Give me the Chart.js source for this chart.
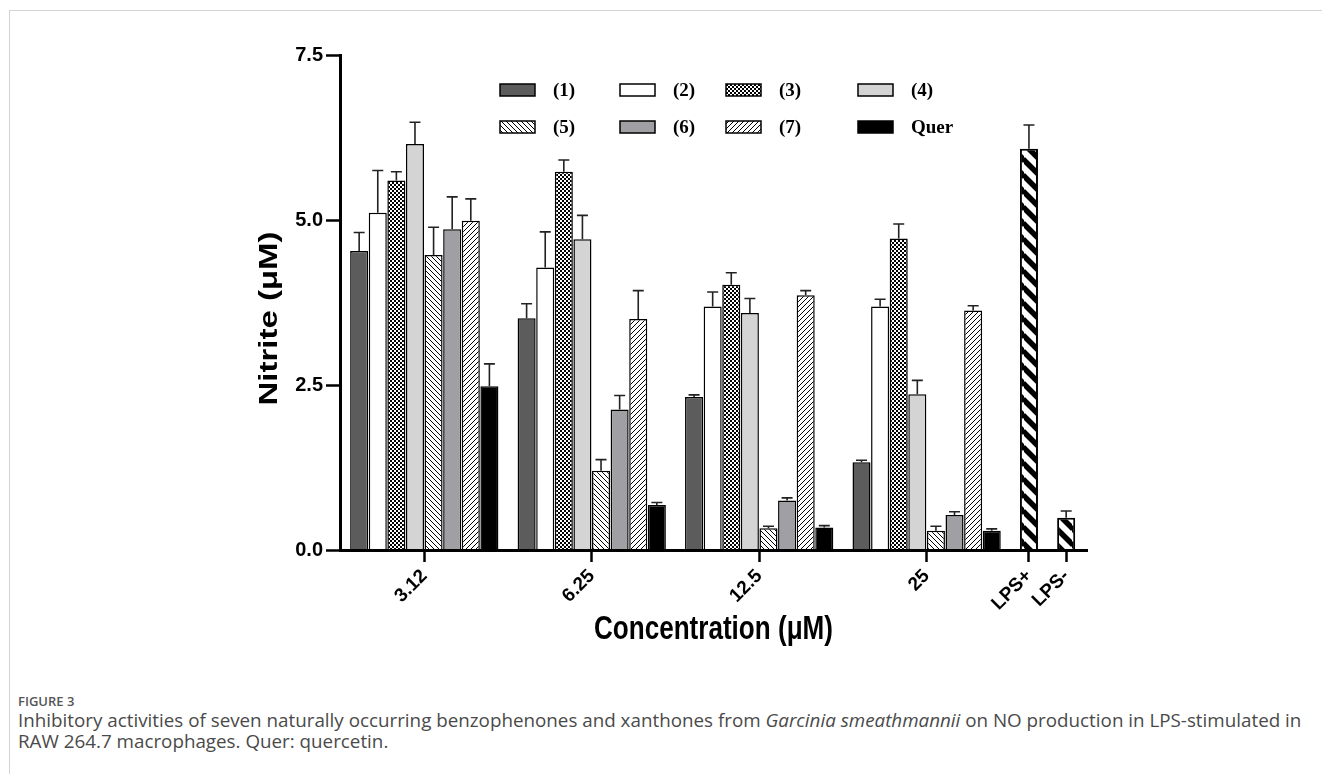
<!DOCTYPE html>
<html>
<head>
<meta charset="utf-8">
<title>Nitrite production</title>
<style>
body { margin: 0; background: #fff; width: 1322px; height: 774px; overflow: hidden; position: relative; }
#frame { position: absolute; left: 9px; top: 10px; right: 0; bottom: 0; border-top: 1px solid #d4d4d4; border-left: 1px solid #d4d4d4; }
#wrap { position: absolute; left: 0; top: 0; width: 1322px; height: 680px; }
#caption { position: absolute; left: 18px; top: 692px; color: #4a4a4a; font-family: 'Open Sans', sans-serif; white-space: nowrap; }
#caption .fig { font-size: 13px; font-weight: 600; color: #555; line-height: 18px; }
#caption .txt { font-size: 15px; line-height: 21px; }
</style>
<script src="https://cdn.jsdelivr.net/npm/chart.js@4.4.0/dist/chart.umd.min.js"></script>
<script>
// concentrations (uM) and the compounds tested at each
const categories = ['3.12', '6.25', '12.5', '25'];
const seriesLabels = ['(1)', '(2)', '(3)', '(4)', '(5)', '(6)', '(7)', 'Quer'];

// nitrite (uM), mean and +SD
const s1 = [4.53, 3.51, 2.32, 1.33];   const s1Err = [0.28, 0.22, 0.03, 0.03];
const s2 = [5.11, 4.28, 3.69, 3.69];   const s2Err = [0.64, 0.54, 0.22, 0.11];
const s3 = [5.60, 5.73, 4.02, 4.72];   const s3Err = [0.13, 0.18, 0.18, 0.22];
const s4 = [6.15, 4.71, 3.59, 2.36];   const s4Err = [0.33, 0.36, 0.22, 0.21];
const s5 = [4.47, 1.20, 0.33, 0.29];   const s5Err = [0.42, 0.17, 0.03, 0.07];
const s6 = [4.86, 2.13, 0.75, 0.53];   const s6Err = [0.49, 0.21, 0.04, 0.05];
const s7 = [4.99, 3.50, 3.86, 3.63];   const s7Err = [0.33, 0.43, 0.07, 0.07];
const quer = [2.48, 0.68, 0.34, 0.29]; const querErr = [0.34, 0.04, 0.03, 0.03];

// controls
const controls = ['LPS+', 'LPS-'];
const controlValues = [6.08, 0.49];
const controlErr = [0.36, 0.10];

const yTicks = [0, 2.5, 5, 7.5];
const xTitle = 'Concentration (\u03bcM)';
const yTitle = 'Nitrite (\u03bcM)';
</script>
</head>
<body>
<div id="frame"></div>
<div id="wrap"><canvas id="chart" width="1322" height="680"></canvas></div>
<div id="caption">
	<div class="fig">FIGURE 3</div>
	<div class="txt"><span id="line1">Inhibitory activities of seven naturally occurring benzophenones and xanthones from <i>Garcinia smeathmannii</i> on NO production in LPS-stimulated in</span><br>RAW 264.7 macrophages. Quer: quercetin.</div>
</div>
<script>
const canvas = document.getElementById('chart');
const ctx = canvas.getContext('2d');

function tile(size, paint)
{
	const c = document.createElement('canvas');
	c.width = size;
	c.height = size;
	paint(c.getContext('2d'), size);
	return ctx.createPattern(c, 'repeat');
}

function stripes(size, width, dir)
{
	return tile(size, (g, s) => {
		g.fillStyle = '#fff';
		g.fillRect(0, 0, s, s);
		g.strokeStyle = '#000';
		g.lineWidth = width;
		g.beginPath();
		for (let k = -1; k <= 1; k++) {
			if (dir === '\\') { g.moveTo(-1, k * s - 1); g.lineTo(s + 1, k * s + s + 1); }
			else { g.moveTo(-1, k * s + s + 1); g.lineTo(s + 1, k * s - 1); }
		}
		g.stroke();
	});
}

const checker = tile(4, (g) => {
	g.fillStyle = '#000';
	g.fillRect(0, 0, 4, 4);
	g.fillStyle = '#fff';
	g.fillRect(0, 0, 2, 2);
	g.fillRect(2, 2, 2, 2);
});

const fills = ['#5c5c5c', '#ffffff', checker, '#d4d4d4', stripes(5, 1, '\\'), '#a09fa4', stripes(5, 1, '/'), '#000000'];
const series = [s1, s2, s3, s4, s5, s6, s7, quer];
const errs = [s1Err, s2Err, s3Err, s4Err, s5Err, s6Err, s7Err, querErr];

// one slot per bar on a linear x axis: 8 bars + 1 gap per group, controls two slots apart
const groupStride = seriesLabels.length + 1;
const lastSlot = (categories.length - 1) * groupStride + seriesLabels.length - 1;
const controlSlot = k => lastSlot + 2 * (k + 1);

const datasets = seriesLabels.map((label, i) => ({
	label: label,
	backgroundColor: fills[i],
	borderColor: '#000',
	borderWidth: 1.5,
	data: series[i].map((v, g) => ({ x: g * groupStride + i, y: v })),
	errors: errs[i]
}));
datasets.push({
	label: 'LPS',
	backgroundColor: stripes(16, 5.5, '\\'),
	borderColor: '#000',
	borderWidth: 2,
	data: controlValues.map((v, k) => ({ x: controlSlot(k), y: v })),
	errors: controlErr,
	noLegend: true
});

const tickValues = categories.map((c, g) => g * groupStride + (seriesLabels.length - 1) / 2)
	.concat(controls.map((c, k) => controlSlot(k)));
const tickLabels = categories.concat(controls);

const errorBars = {
	id: 'errorBars',
	afterDatasetsDraw(chart) {
		const c = chart.ctx, y = chart.scales.y;
		c.save();
		c.strokeStyle = '#222';
		c.lineWidth = 1.6;
		chart.data.datasets.forEach((ds, di) => {
			chart.getDatasetMeta(di).data.forEach((bar, i) => {
				const end = y.getPixelForValue(ds.data[i].y + ds.errors[i]);
				c.beginPath();
				c.moveTo(bar.x, bar.y);
				c.lineTo(bar.x, end);
				c.moveTo(bar.x - 5.5, end);
				c.lineTo(bar.x + 5.5, end);
				c.stroke();
			});
		});
		c.restore();
	}
};

// legend: 4 columns x 2 rows inside the plot
const legendCols = [500, 620, 726, 858];
const legendRows = [90, 127];
const gridLegend = {
	id: 'gridLegend',
	afterDraw(chart) {
		const c = chart.ctx;
		c.save();
		chart.data.datasets.filter(ds => !ds.noLegend).forEach((ds, i) => {
			const x = legendCols[i % 4], y = legendRows[Math.floor(i / 4)];
			c.fillStyle = ds.backgroundColor;
			c.fillRect(x, y - 6, 35, 12);
			c.strokeStyle = '#000';
			c.lineWidth = 1.5;
			c.strokeRect(x, y - 6, 35, 12);
			c.fillStyle = '#000';
			c.font = 'bold 19px "Liberation Serif", "Times New Roman", serif';
			c.textBaseline = 'middle';
			c.fillText(ds.label, x + 53, y + 1);
		});
		c.restore();
	}
};

// axis titles: tall, horizontally squeezed lettering as in the figure
const axisTitles = {
	id: 'axisTitles',
	afterDraw(chart) {
		const c = chart.ctx, area = chart.chartArea;
		c.save();
		c.fillStyle = '#000';
		c.font = 'bold 33px "Liberation Sans", Arial, sans-serif';
		c.textAlign = 'center';
		c.textBaseline = 'middle';
		c.save();
		c.translate((area.left + area.right) / 2, 630);
		c.scale(0.79, 1);
		c.fillText(xTitle, 0, 0);
		c.restore();
		c.translate(270, (area.top + area.bottom) / 2 + 16);
		c.scale(0.79, 1);
		c.rotate(-Math.PI / 2);
		c.fillText(yTitle, 0, 0);
		c.restore();
	}
};

const tickFont = { family: '"Liberation Sans", Arial, sans-serif', size: 20, weight: 'bold' };

new Chart(ctx, {
	type: 'bar',
	data: { datasets: datasets },
	options: {
		responsive: false,
		animation: false,
		grouped: false,
		categoryPercentage: 1,
		barPercentage: 0.97,
		layout: { padding: { left: 250, right: 235, top: 55, bottom: 34 } },
		plugins: { legend: { display: false }, tooltip: { enabled: false } },
		scales: {
			x: {
				type: 'linear',
				offset: false,
				min: -1.03,
				max: 39.12,
				afterBuildTicks: axis => { axis.ticks = tickValues.map(v => ({ value: v })); },
				afterFit: axis => { axis.height = 96; },
				grid: { offset: false, drawOnChartArea: false, tickLength: 12, tickWidth: 2.5, tickColor: '#000' },
				border: { color: '#000', width: 3, z: 1 },
				ticks: {
					autoSkip: false,
					minRotation: 45,
					maxRotation: 45,
					padding: 3,
					color: '#000',
					font: { family: '"Liberation Sans", Arial, sans-serif', size: 19, weight: 'bold' },
					callback: (value, index) => tickLabels[index]
				}
			},
			y: {
				min: 0,
				max: 7.5,
				afterBuildTicks: axis => { axis.ticks = yTicks.map(v => ({ value: v })); },
				afterFit: axis => { axis.width = 90; },
				grid: { drawOnChartArea: false, tickLength: 14, tickWidth: 2.5, tickColor: '#000' },
				border: { color: '#000', width: 3, z: 1 },
				ticks: { color: '#000', font: tickFont, padding: 3, callback: v => v.toFixed(1) }
			}
		}
	},
	plugins: [errorBars, gridLegend, axisTitles]
});

// stretch the caption font so the first line spans the frame width
const line1 = document.getElementById('line1');
const txt = document.querySelector('#caption .txt');
const fs = 15 * 1284 / line1.getBoundingClientRect().width;
txt.style.fontSize = fs.toFixed(2) + 'px';
</script>
</body>
</html>
